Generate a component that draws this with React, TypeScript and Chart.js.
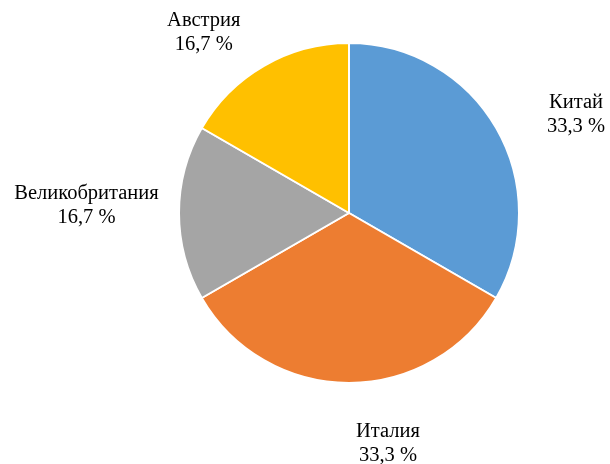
import React, { useEffect, useRef } from "react";
import { Chart, registerables } from "chart.js";

Chart.register(...registerables);

const categories = ["Китай", "Италия", "Великобритания", "Австрия"];
const values = [2, 2, 1, 1];
const colors = ["#5B9BD5", "#ED7D31", "#A5A5A5", "#FFC000"];
// per-label nudges (px) from the default outside anchor
const labelNudgeX = [43, 39, -50, -39];
const labelNudgeY = [8, 18, -7, 4];

const labelPlugin = {
  id: "outsideLabels",
  afterDatasetsDraw(chart: any) {
    const ctx = chart.ctx;
    const meta = chart.getDatasetMeta(0);
    const data = chart.data.datasets[0].data as number[];
    const total = data.reduce((a, b) => a + b, 0);
    ctx.save();
    ctx.font = '20.5px "Liberation Serif", "Times New Roman", serif';
    ctx.fillStyle = "#000";
    ctx.textAlign = "center";
    ctx.textBaseline = "middle";
    const lh = 24;
    meta.data.forEach((arc: any, i: number) => {
      const p = arc.getProps(["x", "y", "startAngle", "endAngle", "outerRadius"], true);
      const mid = (p.startAngle + p.endAngle) / 2;
      const r = p.outerRadius * 1.25;
      const cx = p.x + Math.cos(mid) * r + labelNudgeX[i];
      const cy = p.y + Math.sin(mid) * r + labelNudgeY[i];
      const pct = ((data[i] / total) * 100).toFixed(1).replace(".", ",") + " %";
      ctx.fillText(chart.data.labels[i], cx, cy - lh / 2);
      ctx.fillText(pct, cx, cy + lh / 2);
    });
    ctx.restore();
  },
};

export default function App() {
  const ref = useRef<HTMLCanvasElement>(null);
  useEffect(() => {
    if (!ref.current) return;
    const chart = new Chart(ref.current, {
      type: "pie",
      data: {
        labels: categories,
        datasets: [
          {
            data: values,
            backgroundColor: colors,
            borderColor: "#FFFFFF",
            borderWidth: 2,
            hoverBorderWidth: 2,
          },
        ],
      },
      options: {
        responsive: false,
        animation: false,
        devicePixelRatio: 1,
        layout: { padding: { top: 42, bottom: 80, left: 178, right: 90 } },
        plugins: {
          legend: { display: false },
          tooltip: { enabled: false },
        },
      },
      plugins: [labelPlugin],
    });
    return () => chart.destroy();
  }, []);
  return (
    <div style={{ position: "fixed", left: 0, top: 0, width: 610, height: 464, background: "#fff" }}>
      <canvas ref={ref} width={610} height={464} />
    </div>
  );
}
